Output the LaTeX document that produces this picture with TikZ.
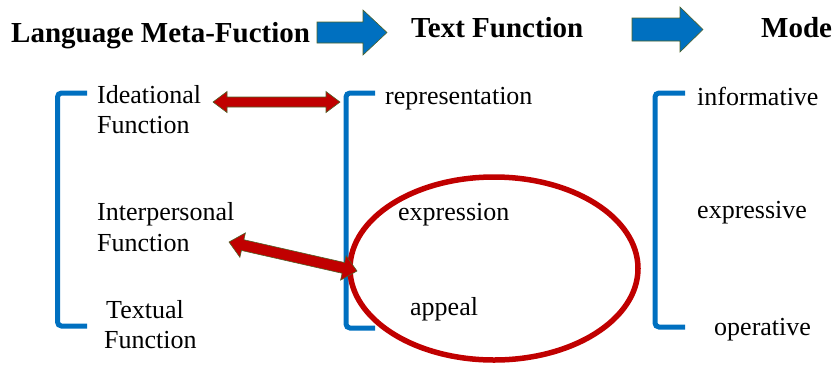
\documentclass[tikz,border=0pt]{standalone}
\usepackage{fontspec}
\setmainfont{Liberation Serif}
\usetikzlibrary{calc}
\definecolor{fblue}{HTML}{0070C0}
\definecolor{fred}{HTML}{C00000}
\definecolor{edgegreen}{HTML}{4F6228}
\newcommand\twoline[2]{\begin{tabular}[t]{@{}l@{}}#1\\#2\end{tabular}}
\newcommand\dblredarrow[5]{% from, to, head length, shaft half, head half
  \coordinate (#1h) at ($(#1)!#3!(#2)$);
  \coordinate (#2h) at ($(#2)!#3!(#1)$);
  \draw[redarrow] (#1) -- ($(#1h)!#5!90:(#2)$) -- ($(#1h)!#4!90:(#2)$)
    -- ($(#2h)!#4!-90:(#1)$) -- ($(#2h)!#5!-90:(#1)$) -- (#2)
    -- ($(#2h)!#5!90:(#1)$) -- ($(#2h)!#4!90:(#1)$)
    -- ($(#1h)!#4!-90:(#2)$) -- ($(#1h)!#5!-90:(#2)$) -- cycle;}
\begin{document}
\begin{tikzpicture}[x=1pt,y=-1pt,
  title/.style={font=\fontsize{29}{32}\selectfont\bfseries, inner sep=0, anchor=base west},
  body/.style={font=\fontsize{26}{30.5}\selectfont, inner sep=0, anchor=base west},
  bracket/.style={draw=fblue, line width=5pt, rounded corners=4pt},
  blockarrow/.style={fill=fblue, draw=edgegreen, line width=0.6pt},
  redarrow/.style={fill=fred, draw=edgegreen, line width=0.6pt},
  ring/.style={draw=fred, line width=5.5pt}]
\useasboundingbox (0,0) rectangle (835,365);

% titles
\node[title] (meta) at (11,42) {Language Meta-Fuction};
\node[title] (textf) at (411,37) {Text Function};
\node[title] (mode) at (761,37) {Mode};

% blue block arrows
\draw[blockarrow] (317,22) -- (363,22) -- (363,10) -- (387,32.5) -- (363,55) -- (363,43) -- (317,43) -- cycle;
\draw[blockarrow] (632,18) -- (680,18) -- (680,7) -- (703,29.5) -- (680,52) -- (680,41) -- (632,41) -- cycle;

% brackets
\draw[bracket] (87,93) -- (57.5,93) -- (57.5,326) -- (87,326);
\draw[bracket] (375,93) -- (346,93) -- (346,328) -- (375,328);
\draw[bracket] (685,93) -- (655,93) -- (655,327) -- (685,327);

% left column
\node[body] (ideat) at (97,103) {\twoline{Ideational}{Function}};
\node[body] (inter) at (97,220.5) {\twoline{Interpersonal}{Function}};
\node[body] (textual) at (104,318) {\twoline{\hspace{2pt}Textual}{Function}};

% middle column
\node[body] (repr) at (385,104) {representation};
\node[body] (expr) at (398,220) {expression};
\node[body] (appeal) at (410,315) {appeal};

% right column
\node[body] (inform) at (697,105) {informative};
\node[body] (expsv) at (697,218) {expressive};
\node[body] (oper) at (714,335) {operative};

% red ellipse
\draw[ring] (494,268.5) ellipse [x radius=144, y radius=91.5];

% red double arrows
\coordinate (a1) at (213,102);
\coordinate (b1) at (340,102);
\dblredarrow{a1}{b1}{14pt}{5pt}{10.5pt}
\coordinate (a2) at (229,242);
\coordinate (b2) at (357,271);
\dblredarrow{a2}{b2}{14pt}{5.5pt}{12.5pt}
\end{tikzpicture}
\end{document}
